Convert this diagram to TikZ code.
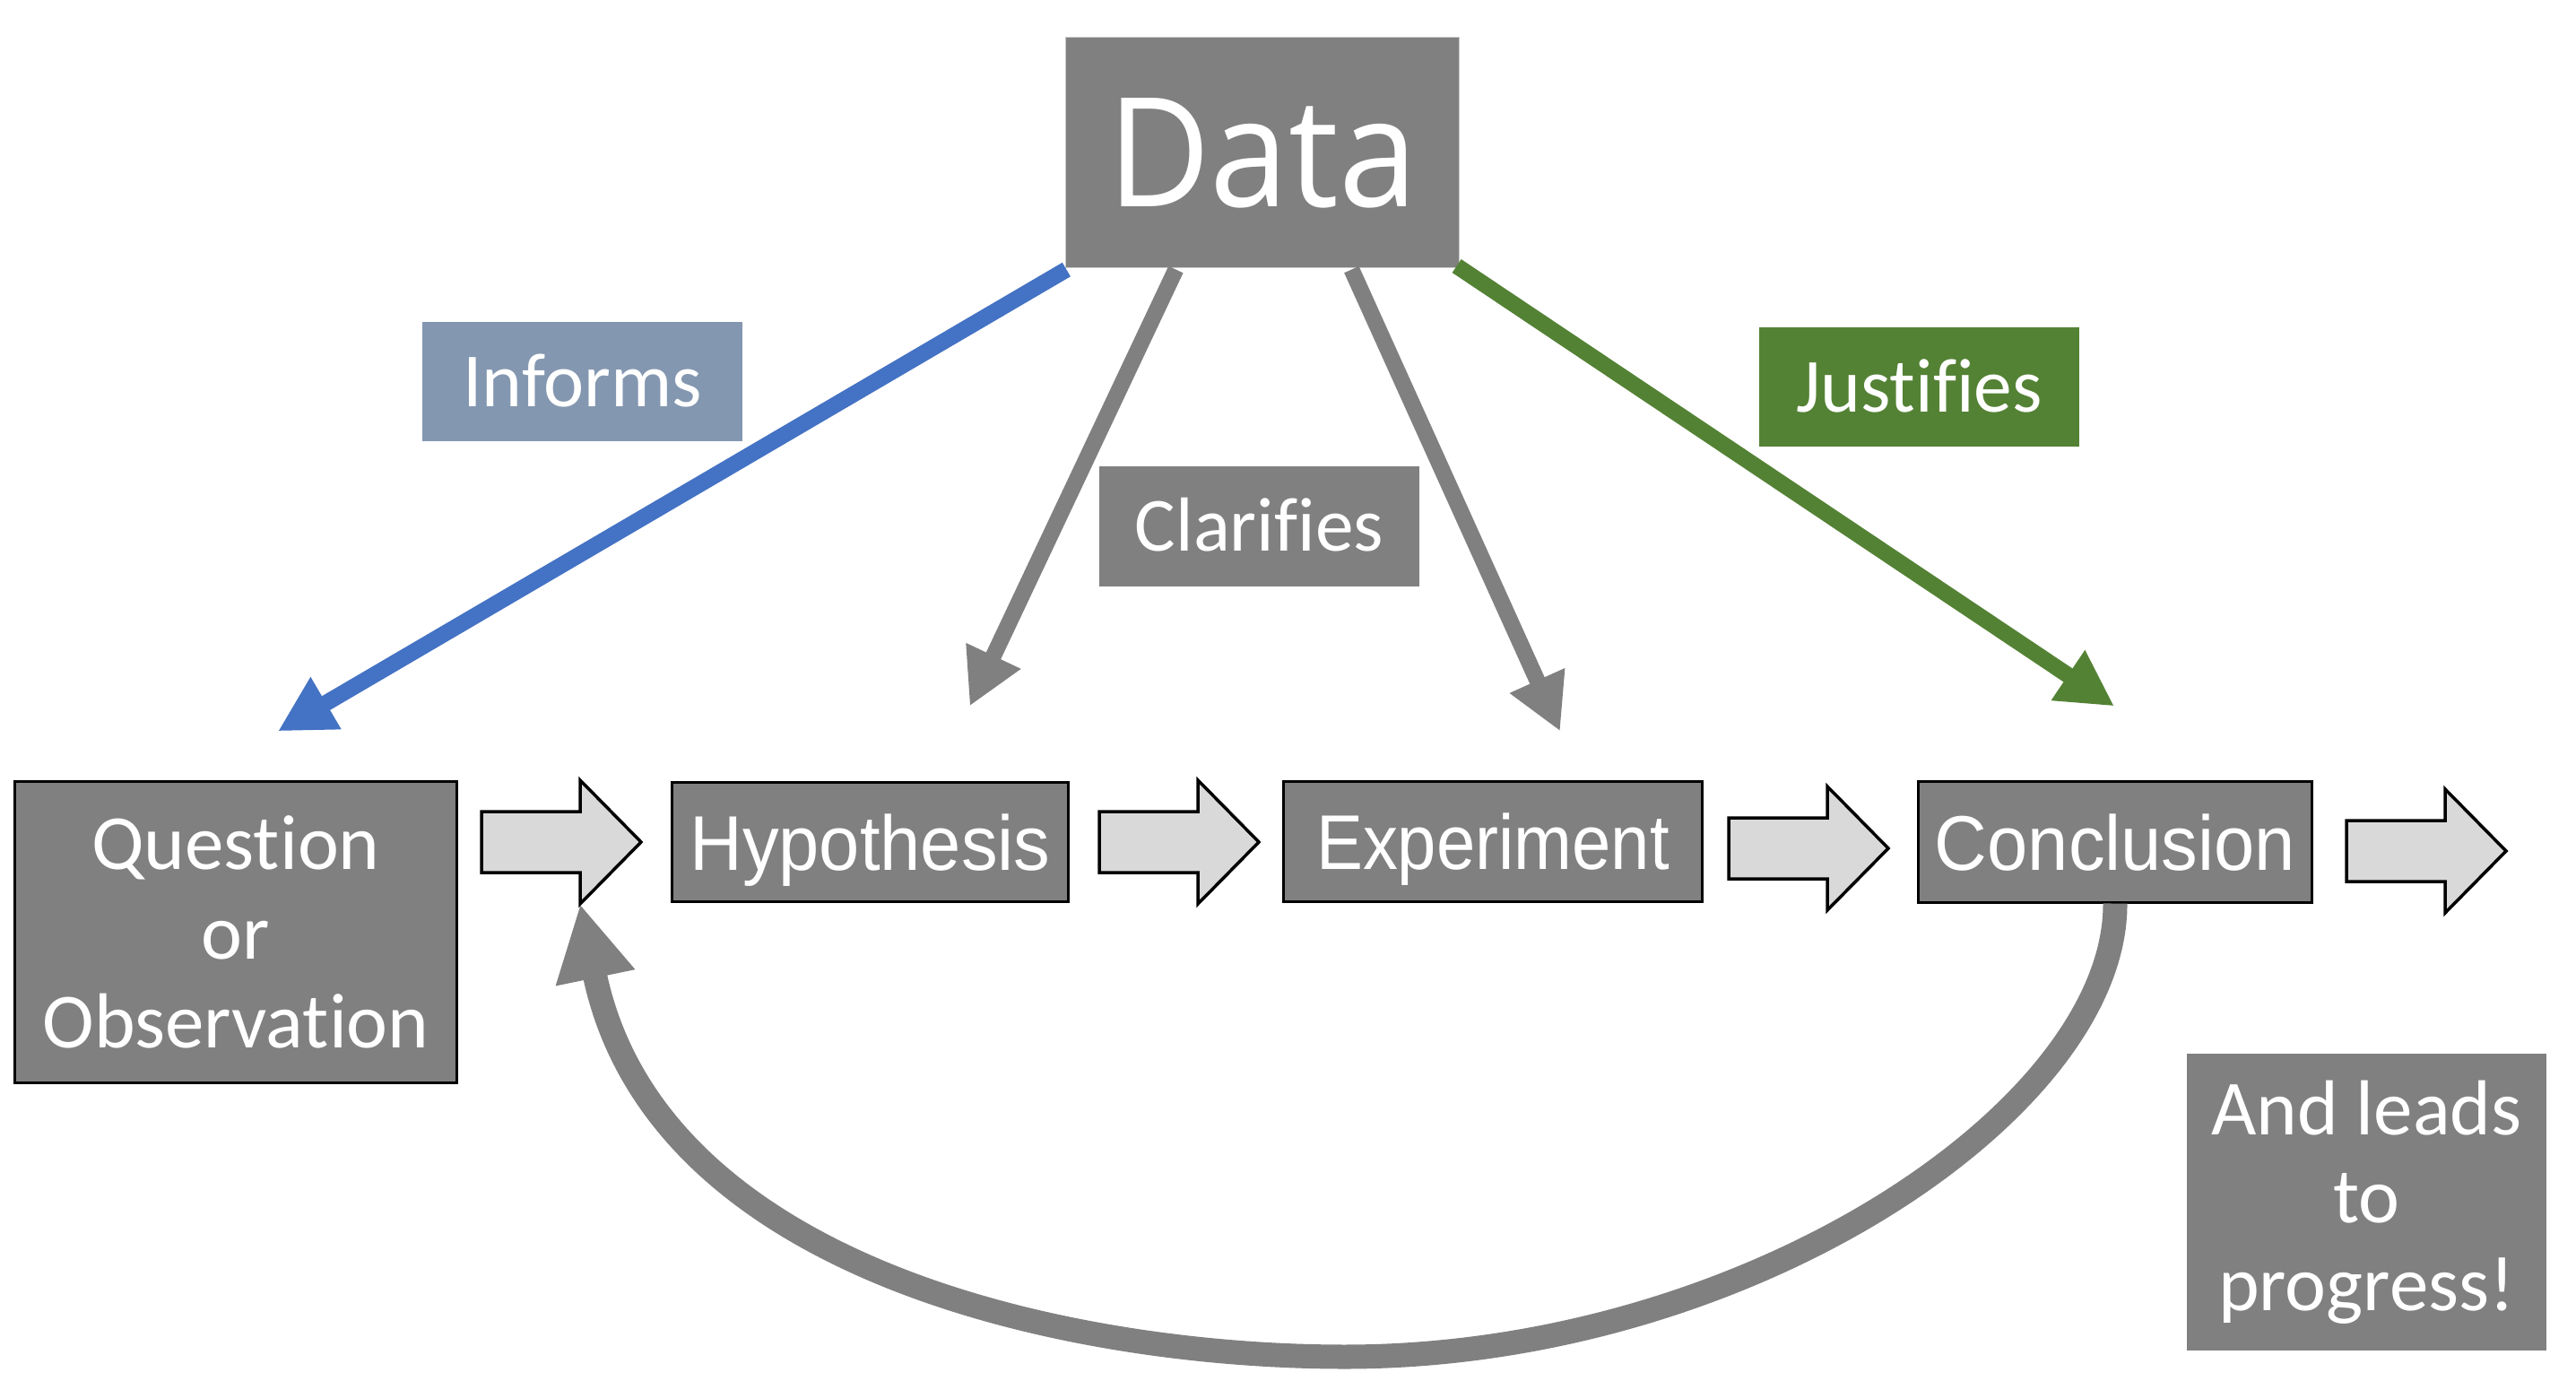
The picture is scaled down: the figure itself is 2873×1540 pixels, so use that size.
\documentclass[tikz,border=0pt]{standalone}
\usepackage{fontspec}
\setmainfont{Carlito}[Ligatures={NoCommon,NoRare}]
\newfontfamily\opensans{Open Sans}
\newfontfamily\libsans{Liberation Sans}
\usetikzlibrary{arrows.meta,calc}
\definecolor{boxgray}{HTML}{808080}
\definecolor{lightfill}{HTML}{D9D9D9}
\definecolor{informsblue}{HTML}{8497B0}
\definecolor{justgreen}{HTML}{548235}
\definecolor{arrowblue}{HTML}{4472C4}
\begin{document}
\begin{tikzpicture}[x=0.01cm,y=-0.01cm,
  lbl/.style={fill=#1, text=white, minimum width=3.57cm, minimum height=1.33cm, inner sep=0pt,
    font=\fontsize{24.3pt}{28pt}\selectfont, text height=0.55cm, text depth=0pt},
  proc/.style={fill=boxgray, draw=black, line width=0.03cm, text=white, inner sep=0pt,
    text height=0.62cm, text depth=0pt, font=\libsans\fontsize{24.6pt}{28pt}\selectfont},
  multibox/.style={fill=boxgray, text=white, inner sep=0pt, align=center,
    font=\fontsize{24.75pt}{28.2pt}\selectfont},
  hollow/.style={draw=black, fill=lightfill, line width=0.035cm, line join=miter},
  conn/.style={line width=0.18cm, -{Triangle[length=0.62cm,width=0.63cm]}},
  loopconn/.style={line width=0.27cm, -{Triangle[length=0.84cm,width=0.84cm]}}
]
\useasboundingbox[fill=white] (0,0) rectangle (2873,1540);

% main boxes
\node[fill=boxgray, draw=white!80!black, line width=0.01cm, minimum width=4.38cm, minimum height=2.56cm,
  inner sep=0pt, text=white, text height=1.21cm, text depth=0pt,
  font=\opensans\fontsize{48.2pt}{50pt}\selectfont] (data) at (1408,170) {\scalebox{0.93}[1]{Data}};

\node[lbl=informsblue] (informs) at (649.5,425.5) {Informs};
\node[lbl=boxgray] (clarifies) at (1404.5,587) {Clarifies};
\node[lbl=justgreen] (justifies) at (2140.5,431.5) {Justifies};

\node[multibox, draw=black, line width=0.03cm, minimum width=4.92cm, minimum height=3.35cm]
  (question) at (263,1039.5) {Question\\or\\Observation};
\node[proc, minimum width=4.41cm, minimum height=1.32cm] (hyp) at (970.5,939) {\scalebox{0.94}[1]{Hypothesis}};
\node[proc, minimum width=4.66cm, minimum height=1.33cm] (exp) at (1665,938.5) {\scalebox{0.9}[1]{Experiment}};
\node[proc, minimum width=4.38cm, minimum height=1.34cm] (concl) at (2359,939) {\scalebox{0.94}[1]{Conclusion}};

\node[multibox, minimum width=4.01cm, minimum height=3.31cm, font=\fontsize{24.75pt}{27.8pt}\selectfont]
  (progress) at (2639.5,1340.5) {And leads\\to\\progress!};

% hollow block arrows
\foreach \ax/\ay in {537/939, 1226/939, 1928/946, 2617/949}{
  \draw[hollow] (\ax,\ay-34) -- ++(110,0) -- ++(0,-35) -- ++(68,69) -- ++(-68,69)
    -- ++(0,-35) -- ++(-110,0) -- cycle;
}

% connector end points
\coordinate (qtip) at ($(question.north)+(47,-55)$);
\coordinate (htip) at ($(hyp.north)+(111,-84)$);
\coordinate (etip) at ($(exp.north)+(75,-55)$);
\coordinate (ctip) at ($(concl.north)+(-1,-83)$);
\coordinate (looptip) at (647,1008);

% connectors from Data
\draw[conn, arrowblue] ($(data.south west)+(1,2)$) -- (qtip);
\draw[conn, boxgray] ($(data.south west)+(123,2)$) -- (htip);
\draw[conn, boxgray] ($(data.south west)+(319,2)$) -- (etip);
\draw[conn, justgreen] ($(data.south east)+(-3,-2)$) -- (ctip);

% feedback loop
\draw[loopconn, boxgray] (concl.south) .. controls (2360,1236) and (1950,1513) .. (1500,1513)
  .. controls (1200,1513) and (732,1419) .. (looptip);
\end{tikzpicture}
\end{document}
